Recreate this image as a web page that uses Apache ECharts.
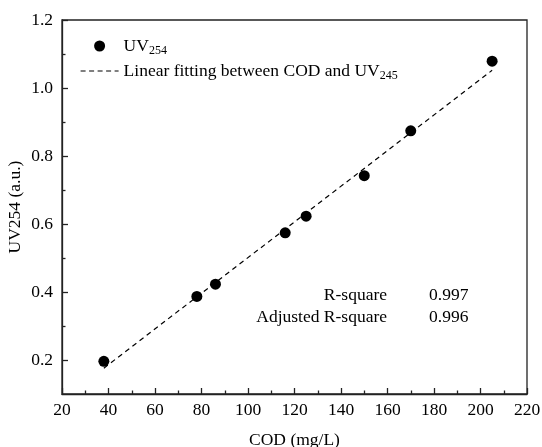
<!DOCTYPE html>
<html><head><meta charset="utf-8">
<script src="https://cdn.jsdelivr.net/npm/echarts@6/dist/echarts.min.js"></script>
<style>html,body{margin:0;padding:0;background:#fff}#c{width:542px;height:447px}</style>
</head><body><div id="c"></div>
<script>
var codValues = [38, 78, 86, 116, 125, 150, 170, 205];
var uvValues = [0.196, 0.387, 0.423, 0.574, 0.623, 0.742, 0.874, 1.079];
var fitX = [38, 205];
var fitY = [0.176, 1.052];
var yMajorTicks = [0.2, 0.4, 0.6, 0.8, 1.0, 1.2];
var yMinorTicks = [0.3, 0.5, 0.7, 0.9, 1.1];
var stats = [['R-square', '0.997'], ['Adjusted R-square', '0.996']];

var FONT = '"Liberation Serif", "Times New Roman", serif';
var FS = 17.5;
var AX = '#222';
var chart = echarts.init(document.getElementById('c'), null, {renderer: 'canvas'});
var scatterData = codValues.map(function (x, i) { return [x, uvValues[i]]; });
var fitData = fitX.map(function (x, i) { return [x, fitY[i]]; });

var rich = {
  a: {fontFamily: FONT, fontSize: FS, color: '#000'},
  s: {fontFamily: FONT, fontSize: 12, color: '#000', padding: [10, 0, 0, 0]}
};

chart.setOption({
  animation: false,
  backgroundColor: '#fff',
  grid: {left: 62, top: 20, right: 15, bottom: 53, containLabel: false, outerBoundsMode: 'none',
    show: true, borderColor: AX, borderWidth: 1.3, backgroundColor: 'transparent'},
  legend: {
    orient: 'vertical', left: 80, top: 37, padding: 0, itemGap: 5, itemWidth: 38, itemHeight: 11,
    data: [
      {name: 'UV254', itemStyle: {opacity: 1, color: '#000'}},
      {name: 'fit', itemStyle: {opacity: 0}, lineStyle: {type: [5, 3.5], width: 1.2, color: '#000'}}
    ],
    formatter: function (n) {
      return n === 'UV254' ? '{a|UV}{s|254}' : '{a|Linear fitting between COD and UV}{s|245}';
    },
    textStyle: {rich: rich}
  },
  xAxis: {
    type: 'value', min: 20, max: 220, interval: 20,
    name: 'COD (mg/L)', nameLocation: 'middle', nameGap: 37, nameMoveOverlap: false,
    nameTextStyle: {fontFamily: FONT, fontSize: FS, color: '#000'},
    axisLine: {onZero: false, lineStyle: {color: AX, width: 1.3}},
    axisTick: {inside: true, length: 6, lineStyle: {color: AX, width: 1.3}},
    minorTick: {show: true, splitNumber: 2, length: 3.5, lineStyle: {color: AX, width: 1.3}},
    splitLine: {show: false},
    axisLabel: {fontFamily: FONT, fontSize: FS, color: '#000', margin: 7}
  },
  yAxis: [{
    type: 'value', min: 0.1, max: 1.2,
    name: 'UV254 (a.u.)', nameLocation: 'middle', nameGap: 38, nameMoveOverlap: false,
    nameTextStyle: {fontFamily: FONT, fontSize: FS, color: '#000'},
    axisLine: {onZero: false, lineStyle: {color: AX, width: 1.3}},
    axisTick: {inside: true, length: 6, customValues: yMajorTicks, lineStyle: {color: AX, width: 1.3}},
    splitLine: {show: false},
    axisLabel: {fontFamily: FONT, fontSize: FS, color: '#000', margin: 9, customValues: yMajorTicks,
      formatter: function (v) { return v.toFixed(1); }}
  }, {
    type: 'value', min: 0.1, max: 1.2, position: 'left',
    axisLine: {show: false},
    axisTick: {inside: true, length: 3.5, customValues: yMinorTicks, lineStyle: {color: AX, width: 1.3}},
    axisLabel: {show: false}, splitLine: {show: false}
  }],
  series: [{
    name: 'UV254', type: 'scatter', data: scatterData, symbol: 'circle', symbolSize: 11,
    itemStyle: {color: '#000', opacity: 1}, z: 3
  }, {
    name: 'fit', type: 'line', data: fitData, symbol: 'none', showSymbol: false,
    lineStyle: {color: '#000', width: 1.2, type: [5, 4]}, itemStyle: {color: '#000'}, z: 2
  }],
  graphic: [{
    type: 'text', x: 387, y: 295,
    style: {text: stats[0][0], font: FS + 'px ' + FONT, fill: '#000', textAlign: 'right', textVerticalAlign: 'middle'}
  }, {
    type: 'text', x: 387, y: 317,
    style: {text: stats[1][0], font: FS + 'px ' + FONT, fill: '#000', textAlign: 'right', textVerticalAlign: 'middle'}
  }, {
    type: 'text', x: 429, y: 295,
    style: {text: stats[0][1], font: FS + 'px ' + FONT, fill: '#000', textAlign: 'left', textVerticalAlign: 'middle'}
  }, {
    type: 'text', x: 429, y: 317,
    style: {text: stats[1][1], font: FS + 'px ' + FONT, fill: '#000', textAlign: 'left', textVerticalAlign: 'middle'}
  }]
});
</script></body></html>
